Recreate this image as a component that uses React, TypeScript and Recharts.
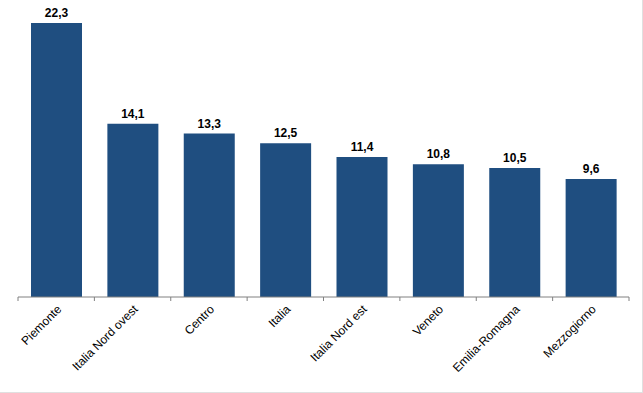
import React from 'react';
import { BarChart, Bar, XAxis, YAxis, LabelList } from 'recharts';

const regions = [
  'Piemonte',
  'Italia Nord ovest',
  'Centro',
  'Italia',
  'Italia Nord est',
  'Veneto',
  'Emilia-Romagna',
  'Mezzogiorno',
];
const values = [22.3, 14.1, 13.3, 12.5, 11.4, 10.8, 10.5, 9.6];

const data = regions.map((name, i) => ({ name, value: values[i] }));

const W = 643;
const H = 393;
const LEFT = 18;
const RIGHT = 14;
const BAND = (W - LEFT - RIGHT) / regions.length;
const FONT = '"Liberation Sans", Arial, sans-serif';

// boundary ticks between categories, plus a rotated label
function RegionTick(props: any) {
  const { x, y, payload, index } = props;
  const tx = x + 6;
  const ty = y + 13;
  return (
    <g>
      <line x1={x - BAND / 2} x2={x - BAND / 2} y1={y} y2={y + 4} stroke="#808080" />
      {index === regions.length - 1 && (
        <line x1={x + BAND / 2} x2={x + BAND / 2} y1={y} y2={y + 4} stroke="#808080" />
      )}
      <g transform={`translate(${tx}, ${ty}) rotate(-45)`}>
        <text x={0} y={0} textAnchor="end" fontSize={12} fontFamily={FONT} fill="#000">
          {payload.value}
        </text>
      </g>
    </g>
  );
}

const fmt = (v: any) => String(v).replace('.', ',');

export default function App() {
  return (
    <div style={{ position: 'absolute', left: 0, top: 0, width: W, height: H, background: '#fff' }}>
      <BarChart
        width={W}
        height={H}
        data={data}
        margin={{ top: 2, right: RIGHT, bottom: 0, left: LEFT }}
      >
        <YAxis hide domain={[0, 24]} />
        <XAxis
          dataKey="name"
          height={96}
          interval={0}
          tickLine={false}
          tickSize={0}
          tickMargin={0}
          axisLine={{ stroke: '#808080' }}
          tick={<RegionTick />}
        />
        <Bar dataKey="value" fill="#1f4e80" barSize={51} isAnimationActive={false}>
          <LabelList
            dataKey="value"
            position="top"
            offset={6}
            formatter={fmt}
            style={{ fontSize: 12, fontWeight: 'bold', fontFamily: FONT, fill: '#000' }}
          />
        </Bar>
      </BarChart>
      <div
        style={{
          position: 'absolute',
          left: 0,
          top: 0,
          width: W,
          height: H,
          boxSizing: 'border-box',
          borderRight: '1px solid #e0e0e0',
          borderBottom: '1px solid #e0e0e0',
          pointerEvents: 'none',
        }}
      />
    </div>
  );
}
